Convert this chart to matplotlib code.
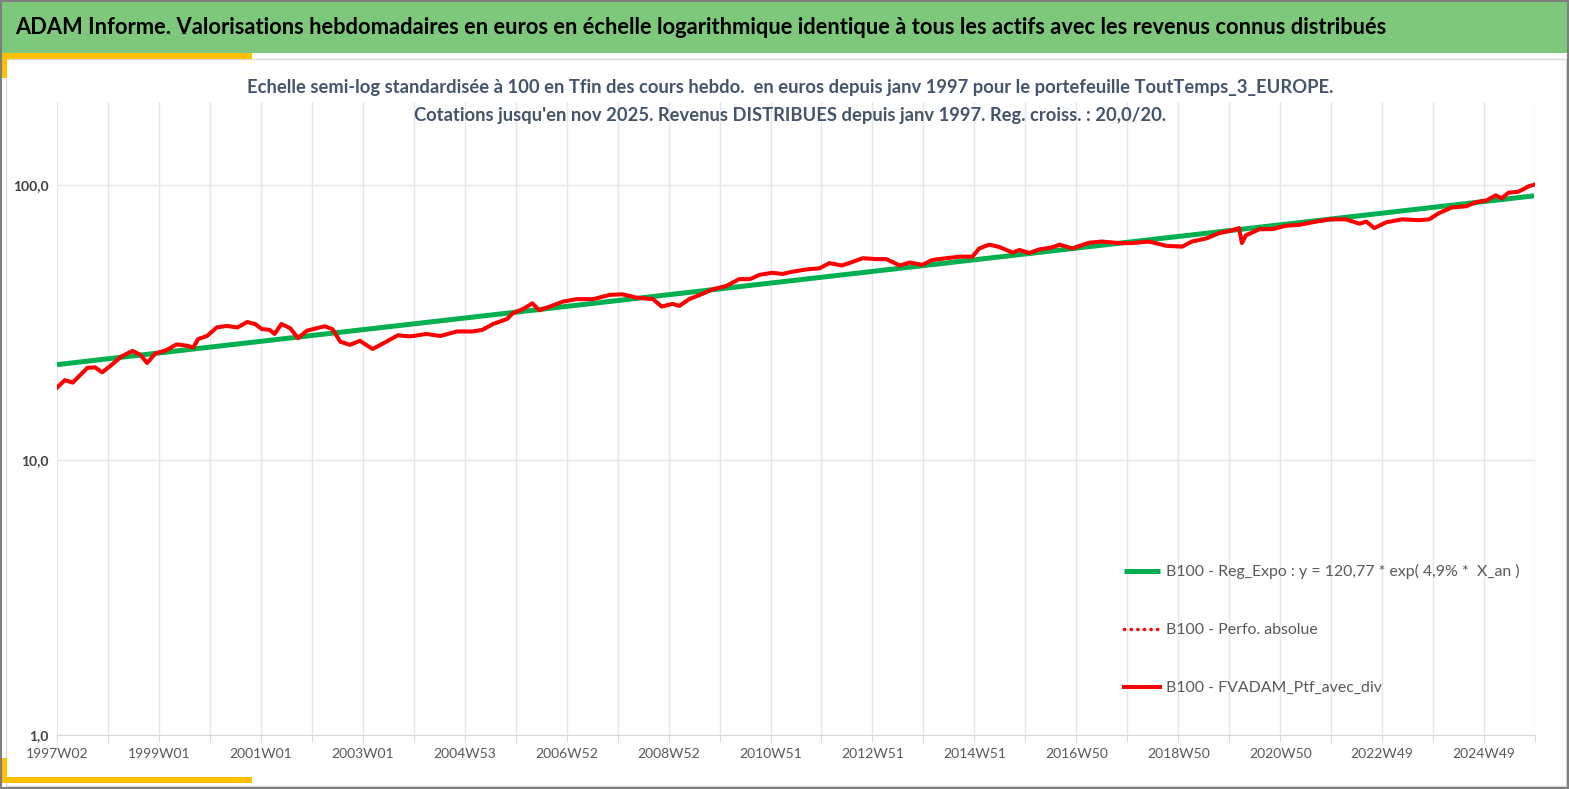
import matplotlib
matplotlib.use("Agg")
import matplotlib.pyplot as plt
from matplotlib.patches import Rectangle
from matplotlib.ticker import FixedLocator, NullLocator

W, H = 1569, 789

# --- data ---
x_labels = ["1997W02", "1999W01", "2001W01", "2003W01", "2004W53", "2006W52",
            "2008W52", "2010W51", "2012W51", "2014W51", "2016W50", "2018W50",
            "2020W50", "2022W49", "2024W49"]

# week index since 1997W02, portfolio value (base 100 at the end)
ptf_weeks = [0, 8, 16, 31, 39, 46, 54, 66, 77, 85, 92, 100, 112, 122, 133, 139,
             144, 153, 163, 173, 184, 194, 202, 209, 217, 222, 229, 238, 246, 255,
             265, 273, 281, 289, 299, 309, 322, 336, 348, 360, 377, 391, 408, 424,
             434, 445, 459, 465, 477, 485, 492, 503, 516, 530, 547, 564, 577, 591,
             608, 617, 628, 635, 645, 656, 669, 683, 696, 707, 717, 730, 740, 750,
             765, 778, 788, 801, 812, 822, 836, 846, 852, 860, 870, 883, 893, 907,
             921, 934, 941, 951, 961, 975, 982, 992, 1002, 1015, 1023, 1036, 1053,
             1066, 1084, 1097, 1114, 1132, 1148, 1158, 1173, 1186, 1199, 1206, 1209,
             1213, 1227, 1240, 1254, 1267, 1285, 1298, 1315, 1329, 1336, 1344, 1356,
             1372, 1390, 1400, 1410, 1423, 1438, 1448, 1458, 1468, 1474, 1481, 1491,
             1502, 1507]
ptf_values = [18.3, 19.5, 19.1, 21.6, 21.7, 20.8, 21.9, 23.8, 24.9, 24.1, 22.5, 24.3,
              25.1, 26.3, 26.0, 25.6, 27.5, 28.2, 30.3, 30.7, 30.3, 31.7, 31.2, 29.9,
              29.7, 28.7, 31.2, 30.1, 27.7, 29.5, 30.1, 30.6, 29.9, 26.9, 26.2, 27.1,
              25.3, 26.9, 28.4, 28.1, 28.7, 28.2, 29.3, 29.3, 29.7, 31.2, 32.5, 34.1,
              35.6, 37.1, 35.0, 36.1, 37.6, 38.4, 38.4, 39.8, 40.0, 38.9, 38.4, 36.1,
              36.9, 36.3, 38.4, 39.8, 41.7, 42.9, 45.4, 45.4, 47.1, 47.9, 47.4, 48.3,
              49.3, 49.7, 51.9, 50.9, 52.5, 54.1, 53.7, 53.7, 52.5, 50.9, 52.2, 51.2,
              53.3, 54.1, 54.8, 54.8, 58.7, 60.6, 59.5, 56.7, 58.0, 56.5, 58.2, 59.2,
              60.6, 58.7, 61.6, 62.2, 61.4, 61.4, 62.2, 60.0, 59.6, 62.2, 63.9, 66.8,
              68.3, 69.6, 61.4, 65.5, 69.0, 69.0, 71.0, 71.5, 73.5, 74.9, 74.9, 72.2,
              73.5, 69.6, 73.0, 74.9, 74.4, 74.9, 78.9, 82.7, 83.6, 86.5, 87.6, 91.6,
              89.3, 93.6, 94.4, 98.9, 100.0]

# exponential regression, straight in log scale: its two end points
reg_weeks = [0, 1507]
reg_values = [22.2, 91.2]

GREEN_HDR = "#7EC87B"
YELLOW = "#FFC000"
GRID = "#E3E6EA"
TXT = "#595959"
SUB = "#44546A"
FONT = ["Lato", "DejaVu Sans"]

plt.rcParams["font.family"] = FONT

fig = plt.figure(figsize=(W / 100, H / 100), dpi=100)
renderer = fig.canvas.get_renderer()


def box(x, y, w, h, **kw):
    # rectangle given in pixels from the top-left corner
    r = Rectangle((x / W, 1 - (y + h) / H), w / W, h / H,
                  transform=fig.transFigure, **kw)
    fig.add_artist(r)


def fit(t, width_px):
    # shrink / grow a text so that it is as wide as in the reference
    w = t.get_window_extent(renderer).width
    t.set_fontsize(t.get_fontsize() * width_px / w)


# header band and frames
box(0, 0, W, 53, facecolor=GREEN_HDR, edgecolor="none", zorder=0)
box(6, 59, 1560, 727, facecolor="none", edgecolor="#D9D9D9", lw=1, zorder=1)
box(0, 53, 252, 6, facecolor=YELLOW, edgecolor="none", zorder=2)
box(0, 53, 7, 25, facecolor=YELLOW, edgecolor="none", zorder=2)
box(0, 777, 252, 6, facecolor=YELLOW, edgecolor="none", zorder=2)
box(0, 758, 7, 25, facecolor=YELLOW, edgecolor="none", zorder=2)
box(0.5, 0.5, W - 1.5, H - 1.5, facecolor="none", edgecolor="#7F7F7F", lw=1.5, zorder=3)

t0 = fig.text(15 / W, 1 - 28 / H,
              "ADAM Informe. Valorisations hebdomadaires en euros en échelle logarithmique "
              "identique à tous les actifs avec les revenus connus distribués",
              fontsize=17, fontweight="bold", color="black", ha="left", va="center")
fit(t0, 1368)
t1 = fig.text(790 / W, 1 - 88 / H,
              "Echelle semi-log standardisée à 100 en Tfin des cours hebdo.  en euros depuis "
              "janv 1997 pour le portefeuille ToutTemps_3_EUROPE.",
              fontsize=14, fontweight="bold", color=SUB, ha="center", va="center")
fit(t1, 1087)
t2 = fig.text(790 / W, 1 - 116 / H,
              "Cotations jusqu'en nov 2025. Revenus DISTRIBUES depuis janv 1997. "
              "Reg. croiss. : 20,0/20.",
              fontsize=t1.get_fontsize(), fontweight="bold", color=SUB,
              ha="center", va="center")

ax = fig.add_axes([57 / W, 1 - 735 / H, (1535 - 57) / W, (735 - 102) / H])
ax.set_facecolor("none")

ax.plot(reg_weeks, reg_values, color="#00B050", lw=3.6, solid_capstyle="butt",
        label="B100 - Reg_Expo : y = 120,77 * exp( 4,9% *  X_an )", zorder=3)
ax.plot(ptf_weeks, ptf_values, color="#FF0000", lw=2.5, linestyle=(0, (0.1, 1.8)),
        dash_capstyle="round", label="B100 - Perfo. absolue", zorder=4)
ax.plot(ptf_weeks, ptf_values, color="#FF0000", lw=2.9, solid_joinstyle="round",
        label="B100 - FVADAM_Ptf_avec_div", zorder=5)

ax.set_yscale("log")
ax.set_ylim(1, 200)
ax.set_xlim(0, 29 * 52)

year_ticks = list(range(0, 29 * 52 + 1, 52))
ax.xaxis.set_major_locator(FixedLocator(year_ticks))
ax.set_xticklabels([x_labels[i // 2] if i % 2 == 0 and i // 2 < len(x_labels) else ""
                    for i in range(len(year_ticks))])
ax.yaxis.set_major_locator(FixedLocator([1, 10, 100]))
ax.yaxis.set_minor_locator(NullLocator())
ax.set_yticklabels(["1,0", "10,0", "100,0"])

ax.grid(True, color=GRID, lw=1)
ax.set_axisbelow(True)
for s in ["top", "right", "left"]:
    ax.spines[s].set_visible(False)
ax.spines["bottom"].set_color("#D9D9D9")
ax.tick_params(axis="x", length=5, color="#D9D9D9", labelsize=10, labelcolor=TXT, pad=4)
ax.tick_params(axis="y", length=0, labelsize=10, labelcolor="#404040", pad=6)
for t in ax.get_yticklabels():
    t.set_fontweight("bold")

leg = ax.legend(loc="upper left", bbox_to_anchor=(1124 / W, 1 - 564 / H),
                bbox_transform=fig.transFigure, frameon=False, fontsize=13,
                labelcolor=TXT, handlelength=2.0, handletextpad=0.35,
                labelspacing=2.45, borderpad=0, borderaxespad=0)
fit(leg.get_texts()[0], 350)
fs = leg.get_texts()[0].get_fontsize()
leg.remove()
fs_px = fs * 100 / 72
leg = ax.legend(loc="upper left", bbox_to_anchor=(1124 / W, 1 - 564 / H),
                bbox_transform=fig.transFigure, frameon=False, fontsize=fs,
                labelcolor=TXT, handlelength=36 / fs_px, handletextpad=6 / fs_px,
                labelspacing=57 / fs_px - 0.82, borderpad=0, borderaxespad=0)

fig.savefig("out.png", dpi=100)
